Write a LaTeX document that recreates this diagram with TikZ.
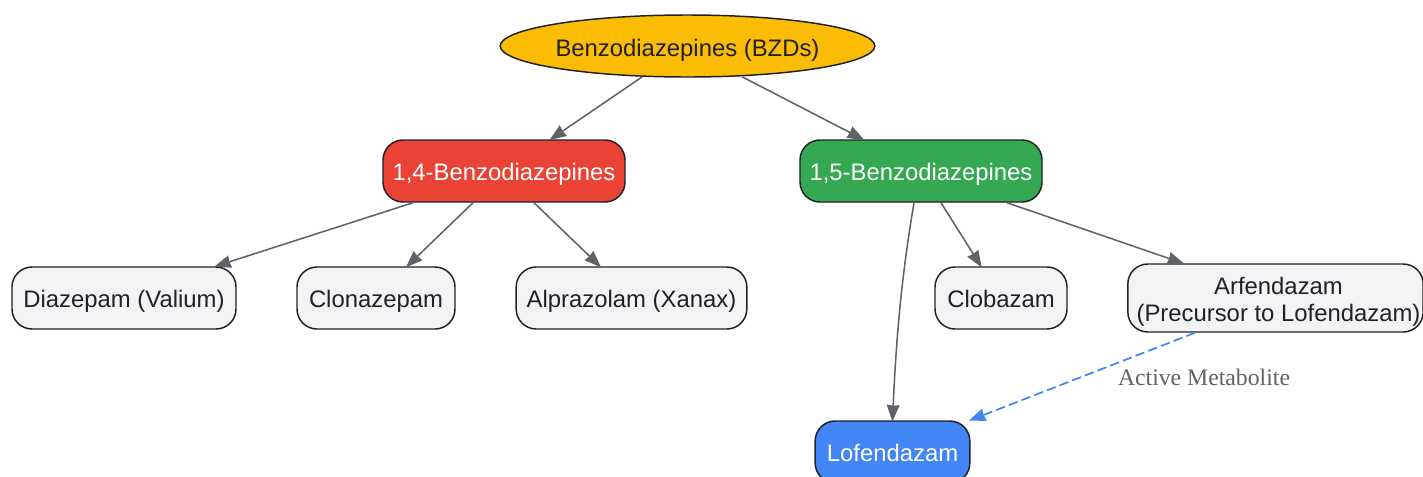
\documentclass[tikz,border=0pt]{standalone}
\usepackage{fontspec}
\setmainfont{Liberation Sans}
\newfontfamily\serifface{Liberation Serif}
\usetikzlibrary{shapes.geometric,arrows.meta,calc}
\definecolor{cyellow}{HTML}{FBBC04}
\definecolor{cred}{HTML}{EA4335}
\definecolor{cgreen}{HTML}{34A853}
\definecolor{cblue}{HTML}{4285F4}
\definecolor{cgrey}{HTML}{F1F3F4}
\definecolor{cink}{HTML}{202124}
\definecolor{cedge}{HTML}{5F6368}
\tikzset{
  basenode/.style={draw=cink,line width=1.1pt,inner sep=0pt,align=center,text=cink,
    font=\fontsize{17.9pt}{20pt}\selectfont},
  box/.style={basenode,rectangle,rounded corners=15pt,minimum height=46.5pt},
  oneline/.style={text height=15.9pt,text depth=1pt},
  drug/.style={box,fill=cgrey},
  colored/.style={box,text=white,oneline},
  conn/.style={draw=cedge,line width=1.15pt,shorten >=-1pt,-{Stealth[length=12.5pt,width=9.5pt,inset=0.6pt]}},
  metab/.style={draw=cblue,line width=1.3pt,dash pattern=on 7pt off 3.2pt,shorten >=-1pt,-{Stealth[length=12.5pt,width=9.5pt,inset=0.6pt]}},
}
\begin{document}
\begin{tikzpicture}[x=0.75pt,y=-0.75pt]
\useasboundingbox (0,0) rectangle (1423,476);
\fill[white] (0,0) rectangle (1423,476);
\node[basenode,ellipse,fill=cyellow,minimum width=281pt,minimum height=46.5pt,text height=16pt,text depth=1pt] (top) at (687.5,46) {Benzodiazepines (BZDs)};
\node[colored,fill=cred,minimum width=181.5pt] (a) at (504,171) {1,4-Benzodiazepines};
\node[colored,fill=cgreen,minimum width=181.5pt] (b) at (921,171) {1,5-Benzodiazepines};
\node[drug,oneline,minimum width=168pt] (diaz) at (124,298) {Diazepam (Valium)};
\node[drug,oneline,minimum width=118.5pt] (clon) at (376,298) {Clonazepam};
\node[drug,oneline,minimum width=173pt] (alpr) at (631.5,298) {Alprazolam (Xanax)};
\node[drug,oneline,minimum width=99pt] (clob) at (1001,298) {Clobazam};
\node[drug,minimum width=221.5pt,minimum height=51pt] (arf) at (1275.5,298) {\hspace*{4.5pt}\rule{0pt}{19pt}Arfendazam\\\hspace*{4.5pt}(Precursor to Lofendazam)};
\node[colored,fill=cblue,minimum width=116pt] (lof) at (892.5,452) {Lofendazam};
\node[inner sep=0pt,text=cedge,font=\serifface\fontsize{17.8pt}{20pt}\selectfont] (lab) at (1204,377) {Active Metabolite};
\draw[conn] (top) -- (a);
\draw[conn] ($(top.south)+(54.5,-1)$) -- ($(b.north)+(-58,0)$);
\draw[conn] ($(a.south)+(-91,0)$) -- ($(diaz.north)+(91.5,0)$);
\draw[conn] ($(a.south)+(-31,0)$) -- ($(clon.north)+(31,0)$);
\draw[conn] ($(a.south)+(30,0)$) -- ($(alpr.north)+(-31.5,0)$);
\draw[conn] (b) -- (clob);
\draw[conn] ($(b.south)+(86,0)$) -- ($(arf.north)+(-92.5,0)$);
\draw[conn] ($(b.south)+(-7,0)$) .. controls (904,262) and (897,320) .. (lof.north);
\draw[metab] ($(arf.south)+(-80.5,0)$) -- ($(lof.north)+(77.5,0)$);
\end{tikzpicture}
\end{document}
